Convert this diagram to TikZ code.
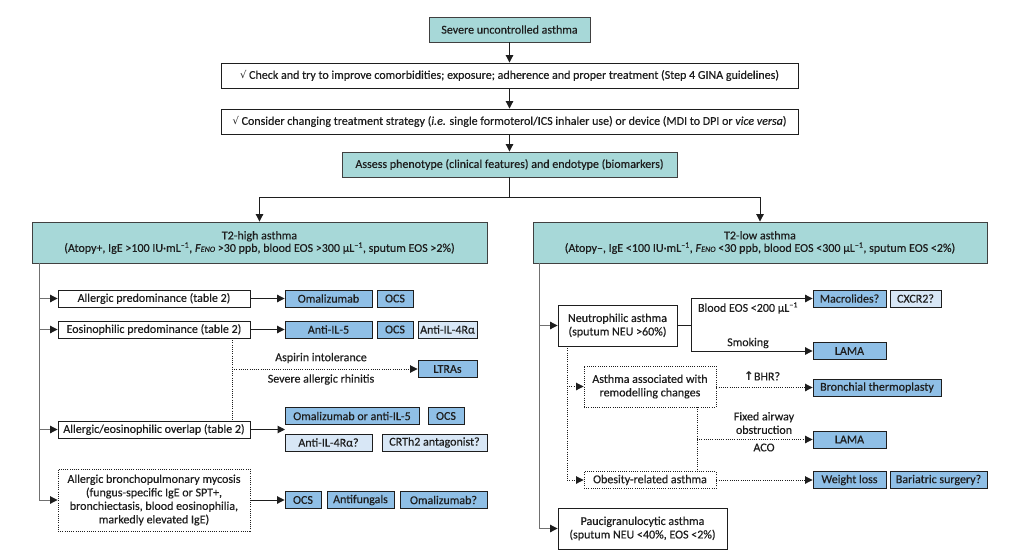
\documentclass[tikz,border=0pt]{standalone}
\usepackage{fontspec}
\setmainfont{Carlito}[UprightFeatures={FakeBold=0.35},ItalicFeatures={FakeBold=0.35}]
\newfontfamily\symf{DejaVu Sans}
\usetikzlibrary{arrows.meta}
\definecolor{teal1}{HTML}{A7D8D8}
\definecolor{blue1}{HTML}{8FBFE6}
\definecolor{blue2}{HTML}{D8E7F6}
\definecolor{ink}{HTML}{1E1E1E}
\definecolor{trunkc}{HTML}{707070}
\newcommand\feno{\textit{F}{\fontsize{8}{8}\selectfont\textit{ENO}}}
\begin{document}
\begin{tikzpicture}[x=1pt,y=-1pt,
  font=\fontsize{12}{13.5}\selectfont, text=ink,
  base/.style={draw=ink, line width=0.9pt, inner sep=0pt, align=center},
  tealbox/.style={base, fill=teal1, draw=ink!85},
  whitebox/.style={base, fill=white},
  dotbox/.style={base, fill=white, dash pattern=on 1pt off 1.2pt},
  drug/.style={base, fill=blue1},
  drugq/.style={base, fill=blue2},
  arr/.style={draw=ink, line width=1pt, -{Triangle[length=7.5pt,width=7.5pt]}},
  ln/.style={draw=ink, line width=1pt},
  trunkarr/.style={draw=trunkc, line width=1pt, -{Triangle[length=7.5pt,width=7.5pt,fill=ink,color=ink]}},
  dot/.style={draw=ink, line width=0.9pt, dash pattern=on 1pt off 1.2pt},
  dotarr/.style={dot, -{Triangle[length=7.5pt,width=7.5pt,fill=ink,color=ink]}},
  lbl/.style={inner sep=0pt, align=center}
]
\useasboundingbox (0,0) rectangle (1024,559);

% top chain
\node[tealbox, minimum width=161, minimum height=25] (sev) at (509.5,29.5) {Severe uncontrolled asthma};
\node[whitebox, minimum width=577, minimum height=25] (chk) at (509.5,75.5) {{\symf\fontsize{10}{11}\selectfont √} Check and try to improve comorbidities; exposure; adherence and proper treatment (Step 4 GINA guidelines)};
\node[whitebox, minimum width=577, minimum height=25] (cons) at (509.5,121.5) {{\symf\fontsize{10}{11}\selectfont √} Consider changing treatment strategy (\textit{i.e.} single formoterol/ICS inhaler use) or device (MDI to DPI or \textit{vice versa})};
\node[tealbox, minimum width=335, minimum height=25] (assess) at (509.5,164.5) {Assess phenotype (clinical features) and endotype (biomarkers)};

\draw[arr] (sev) -- (chk);
\draw[arr] (chk) -- (cons);
\draw[arr] (cons) -- (assess);

\node[tealbox, minimum width=455, minimum height=41] (t2h) at (259.5,242.5) {T2-high asthma\\[-1pt](Atopy+, IgE >100 IU·mL\textsuperscript{–1}, \feno{} >30 ppb, blood EOS >300 µL\textsuperscript{–1}, sputum EOS >2\%)};
\node[tealbox, minimum width=454, minimum height=41] (t2l) at (760,242.5) {T2-low asthma\\[-1pt](Atopy–, IgE <100 IU·mL\textsuperscript{–1}, \feno{} <30 ppb, blood EOS <300 µL\textsuperscript{–1}, sputum EOS <2\%)};

\coordinate (split) at (509.5,197);
\draw[ln] (assess.south) -- (split);
\draw[arr] (split) -| (t2h.north);
\draw[arr] (split) -| (t2l.north);

% T2-high branch
\node[whitebox, minimum width=192, minimum height=17] (ap) at (154,298.5) {Allergic predominance (table 2)};
\node[whitebox, minimum width=192, minimum height=17] (ep) at (154,329.5) {Eosinophilic predominance (table 2)};
\node[whitebox, minimum width=192, minimum height=17] (ov) at (154,429.5) {Allergic/eosinophilic overlap (table 2)};
\node[dotbox, minimum width=192, minimum height=62] (abm) at (154,500) {Allergic bronchopulmonary mycosis\\(fungus-specific IgE or SPT+,\\bronchiectasis, blood eosinophilia,\\markedly elevated IgE)};

\coordinate (lt) at (39,263);
\draw[trunkarr] (lt) |- (abm.west);
\draw[trunkarr] (lt |- ap.west) -- (ap.west);
\draw[trunkarr] (lt |- ep.west) -- (ep.west);
\draw[trunkarr] (lt |- ov.west) -- (ov.west);

\node[drug, minimum width=87, minimum height=17] (om1) at (328.5,298.5) {Omalizumab};
\node[drug, minimum width=36, minimum height=17] (ocs1) at (395,298.5) {OCS};
\node[drug, minimum width=87, minimum height=17] (il5) at (328.5,329.5) {Anti-IL-5};
\node[drug, minimum width=36, minimum height=17] (ocs2) at (395,329.5) {OCS};
\node[drugq, minimum width=59, minimum height=17] (il4) at (447.5,329.5) {Anti-IL-4Rα};
\node[drug, minimum width=59, minimum height=17] (ltra) at (447.5,369) {LTRAs};
\node[drug, minimum width=134, minimum height=17] (om2) at (352,416) {Omalizumab or anti-IL-5};
\node[drug, minimum width=36, minimum height=17] (ocs3) at (446,416) {OCS};
\node[drugq, minimum width=87, minimum height=17] (il4q) at (328.5,442.5) {Anti-IL-4Rα?};
\node[drugq, minimum width=105, minimum height=17] (crth) at (434.5,442.5) {CRTh2 antagonist?};
\node[drug, minimum width=36, minimum height=17] (ocs4) at (303,500) {OCS};
\node[drug, minimum width=67, minimum height=17] (af) at (360.5,500) {Antifungals};
\node[drug, minimum width=87, minimum height=17] (om3) at (443.5,500) {Omalizumab?};

\draw[arr] (ap.east) -- (om1.west);
\draw[arr] (ep.east) -- (il5.west);
\coordinate (ovend) at (285,429.5);
\draw[arr] (ov.east) -- (ovend);
\draw[arr] (abm.east) -- (ocs4.west);

\coordinate (ed) at (232,338);
\draw[dot] (ed) -- (ed |- ov.north);
\draw[dotarr] (ed |- ltra.west) -- (ltra.west);
\node[lbl] (asp) at (321,358) {Aspirin intolerance};
\node[lbl] (sar) at (321,379.5) {Severe allergic rhinitis};

% T2-low branch
\node[whitebox, minimum width=119, minimum height=41] (neu) at (617.5,325.5) {Neutrophilic asthma\\(sputum NEU >60\%)};
\node[dotbox, minimum width=132, minimum height=41] (rem) at (650,386.5) {Asthma associated with\\remodelling changes};
\node[dotbox, minimum width=132, minimum height=17] (ob) at (650,480) {Obesity-related asthma};
\node[whitebox, minimum width=169, minimum height=41] (pau) at (642.5,528.5) {Paucigranulocytic asthma\\(sputum NEU <40\%, EOS <2\%)};

\coordinate (rt) at (539,263);
\draw[trunkarr] (rt) |- (pau.west);
\draw[trunkarr] (rt |- neu.west) -- (neu.west);

\node[drug, minimum width=73, minimum height=17] (mac) at (849.5,298.5) {Macrolides?};
\node[drugq, minimum width=51, minimum height=17] (cx) at (915.5,298.5) {CXCR2?};
\node[drug, minimum width=73, minimum height=17] (lama1) at (849.5,351) {LAMA};
\node[drug, minimum width=128, minimum height=17] (bt) at (877,387.5) {Bronchial thermoplasty};
\node[drug, minimum width=73, minimum height=17] (lama2) at (849.5,439.5) {LAMA};
\node[drug, minimum width=73, minimum height=17] (wl) at (849.5,480) {Weight loss};
\node[drug, minimum width=97, minimum height=17] (bs) at (938.5,480) {Bariatric surgery?};

\coordinate (nb) at (691,325.5);
\draw[ln] (neu.east) -- (nb);
\draw[arr] (nb) |- (mac.west);
\draw[arr] (nb) |- (lama1.west);
\node[lbl] (beos) at (748,308) {Blood EOS <200 µL\textsuperscript{–1}};
\node[lbl] (smk) at (748,343) {Smoking};

\coordinate (nd) at (567,346);
\draw[dotarr] (nd) |- (ob.west);
\draw[dotarr] (nd |- rem.west) -- (rem.west);
\draw[dotarr] (rem.east |- bt.west) -- (bt.west);
\node[lbl] (bhr) at (762,376) {{\symf\bfseries\fontsize{12}{12}\selectfont ↑}BHR?};

\coordinate (rd) at (697,407);
\draw[dot] (rd) -- (rd |- ob.north);
\draw[dotarr] (rd |- lama2.west) -- (lama2.west);
\node[lbl] (fao) at (764,423) {Fixed airway\\obstruction};
\node[lbl] (aco) at (764,447.5) {ACO};
\draw[dotarr] (ob.east) -- (wl.west);
\end{tikzpicture}
\end{document}
